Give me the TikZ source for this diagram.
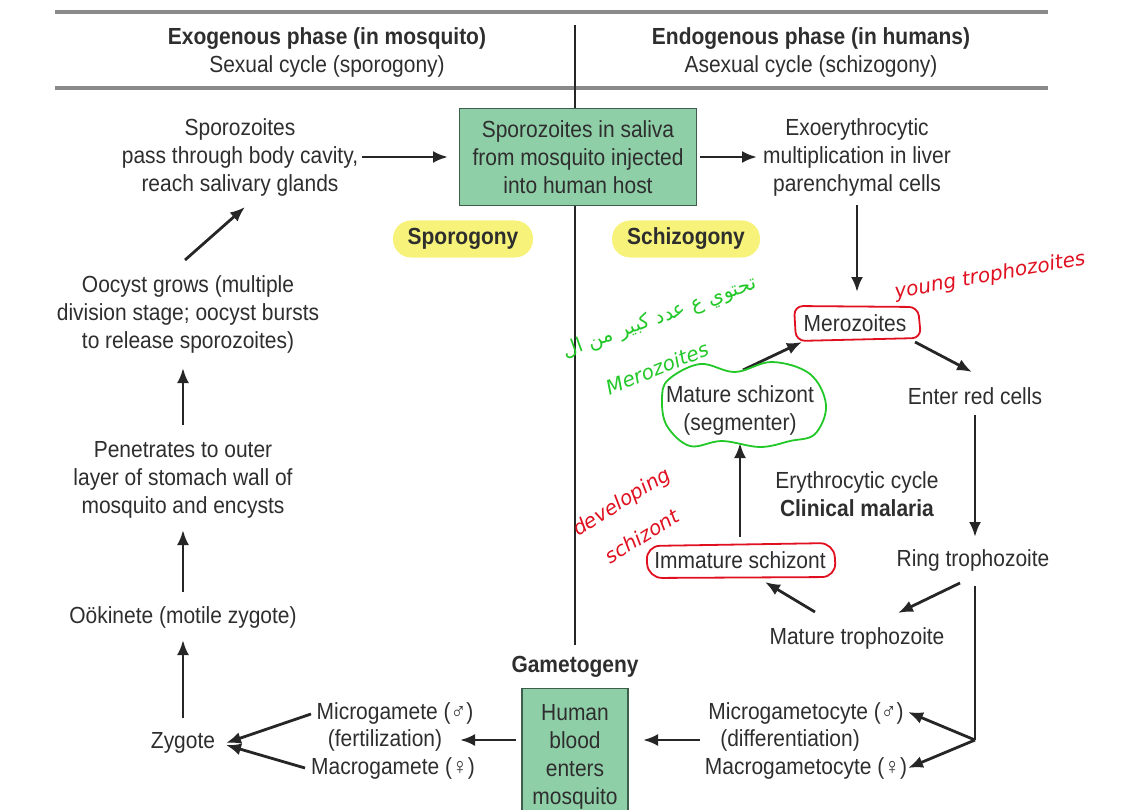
\documentclass[tikz,border=0pt]{standalone}
\usepackage{fontspec}
\setmainfont[FakeStretch=0.9]{Liberation Sans}
\newfontfamily\arabicfont[Script=Arabic]{DejaVu Sans}
\newfontfamily\handfont{DejaVu Sans}
\TeXXeTstate=1
\usetikzlibrary{arrows.meta,calc}
\definecolor{txt}{HTML}{2E2E2E}
\definecolor{boxgreen}{HTML}{8FCFA8}
\definecolor{boxedge}{HTML}{3E5E4C}
\definecolor{pill}{HTML}{F6F27A}
\definecolor{rule}{HTML}{8A8A8A}
\definecolor{pen}{HTML}{E01020}
\definecolor{gpen}{HTML}{22C828}
\tikzset{
  lbl/.style={text=txt, align=center, font=\fontsize{23.3}{28}\selectfont, inner sep=1pt},
  gbox/.style={lbl, draw=boxedge, fill=boxgreen, line width=1.4pt},
  pillbox/.style={fill=pill, rounded corners=18pt, minimum height=37pt, text=txt, font=\fontsize{23.3}{26}\selectfont\bfseries, inner sep=0pt},
  arr/.style={draw=black!85, line width=2.8pt, -{Latex[length=15pt,width=12pt]}},
  ln/.style={draw=black!85, line width=2.8pt},
  hrule/.style={draw=rule, line width=4pt},
  redmark/.style={draw=pen, line width=1.8pt},
  hand/.style={font=\handfont\itshape\fontsize{20}{24}\selectfont, inner sep=0pt}
}
\begin{document}
\begin{tikzpicture}[x=1pt,y=-1pt]
\useasboundingbox (0,0) rectangle (1139,810);
% rules and divider
\draw[hrule] (55,12) -- (1048,12);
\draw[hrule] (55,88) -- (1048,88);
\draw[draw=black!85, line width=1.3pt] (575,25) -- (575,645);
% headers
\node[lbl] (hdrL) at (327,52) {\textbf{Exogenous phase (in mosquito)}\\Sexual cycle (sporogony)};
\node[lbl] (hdrR) at (811,52) {\textbf{Endogenous phase (in humans)}\\Asexual cycle (schizogony)};
% top row
\node[lbl] (spz) at (240,157) {Sporozoites\\pass through body cavity,\\reach salivary glands};
\node[gbox, minimum width=237pt, minimum height=97pt] (saliva) at (578,157) {Sporozoites in saliva\\from mosquito injected\\into human host};
\node[lbl] (exo) at (857,157) {Exoerythrocytic\\multiplication in liver\\parenchymal cells};
\node[pillbox, minimum width=140pt] (sporog) at (463,239) {Sporogony};
\node[pillbox, minimum width=148pt] (schizog) at (686,239) {Schizogony};
% erythrocytic cycle
\node[lbl] (mero) at (855,323) {Merozoites};
\node[lbl] (enter) at (975,396) {Enter red cells};
\node[lbl] (ring) at (973,560) {Ring trophozoite};
\node[lbl] (mattro) at (857,638) {Mature trophozoite};
\node[lbl] (immat) at (740,560) {Immature schizont};
\node[lbl] (matsch) at (740,410) {Mature schizont\\(segmenter)};
\node[lbl] (eryth) at (857,494) {Erythrocytic cycle\\\textbf{Clinical malaria}};
% gametocytes
\node[lbl] (microcyte) at (806,713) {Microgametocyte (♂)};
\node[lbl] (diff) at (790,740) {(differentiation)};
\node[lbl] (macrocyte) at (806,768) {Macrogametocyte (♀)};
\node[lbl, font=\fontsize{23.3}{28}\selectfont\bfseries] (gamgen) at (575,667) {Gametogeny};
\node[gbox, minimum width=106pt, minimum height=136pt, anchor=north] (human) at (575,688) {Human\\blood\\enters\\mosquito};
\node[lbl] (microg) at (395,713) {Microgamete (♂)};
\node[lbl] (fert) at (385,740) {(fertilization)};
\node[lbl] (macrog) at (393,768) {Macrogamete (♀)};
% left column
\node[lbl] (zyg) at (183,743) {Zygote};
\node[lbl] (ook) at (183,617) {Oökinete (motile zygote)};
\node[lbl] (pen) at (183,480) {Penetrates to outer\\layer of stomach wall of\\mosquito and encysts};
\node[lbl] (oocyst) at (188,314) {Oocyst grows (multiple\\division stage; oocyst bursts\\to release sporozoites)};
% connectors
\draw[arr] ($(spz)+(122,0)$) -- ($(saliva)+(-130,0)$);
\draw[arr] ($(saliva)+(122,0)$) -- ($(exo)+(-100,0)$);
\draw[arr] ($(exo)+(0,48)$) -- ($(mero)+(2,-31)$);
\draw[arr] ($(mero)+(60,19)$) -- ($(enter)+(-3,-24)$);
\draw[arr] ($(enter)+(0,19)$) -- ($(ring)+(2,-23)$);
\draw[arr] ($(ring)+(-13,23)$) -- ($(mattro)+(41,-25)$);
\draw[arr] ($(mattro)+(-42,-26)$) -- ($(immat)+(25,22)$);
\draw[arr] ($(immat)+(0,-23)$) -- ($(matsch)+(0,33)$);
\draw[arr] ($(matsch)+(3,-40)$) -- ($(mero)+(-53,19)$);
\coordinate (split) at (975,740);
\draw[ln] ($(ring)+(2,26)$) -- (split);
\draw[arr] (split) -- ($(microcyte)+(102,-1)$);
\draw[arr] (split) -- ($(macrocyte)+(102,0)$);
\draw[arr] ($(diff)+(-90,0)$) -- ($(human.north)+(68,52)$);
\draw[arr] ($(human.north)+(-59,52)$) -- ($(fert)+(75,0)$);
\draw[arr] ($(microg)+(-84,1)$) -- ($(zyg)+(43,0)$);
\draw[arr] ($(macrog)+(-88,0)$) -- ($(zyg)+(43,2)$);
\draw[arr] ($(zyg)+(0,-25)$) -- ($(ook)+(0,23)$);
\draw[arr] ($(ook)+(0,-25)$) -- ($(pen)+(0,50)$);
\draw[arr] ($(pen)+(0,-55)$) -- ($(oocyst)+(-5,54)$);
\draw[arr] ($(oocyst)+(-3,-54)$) -- ($(spz)+(5,50)$);
% handwritten annotations
\draw[redmark, rounded corners=9pt] (794,306) -- (918,307) -- (921,338) -- (796,341) -- cycle;
\draw[redmark, rounded corners=14pt] (646,546) -- (834,543) -- (836,577) -- (648,578) -- cycle;
\draw[draw=gpen, line width=1.8pt] plot[smooth cycle, tension=0.6] coordinates {(668,380) (700,364) (735,372) (772,362) (810,374) (826,405) (815,434) (790,441) (760,447) (722,441) (690,446) (667,426) (662,400)};
\node[hand, text=pen, rotate=10] (young) at (990,276) {young trophozoites};
\node[hand, text=pen, rotate=32] (devel) at (622,503) {developing};
\node[hand, text=pen, rotate=32] (schz) at (642,536) {schizont};
\node[text=gpen, rotate=20, font=\arabicfont\fontsize{20}{24}\selectfont, inner sep=0pt] (arab) at (660,318) {\beginR تحتوي ع عدد كبير من ال\endR};
\node[hand, text=gpen, rotate=22] (gmero) at (657,368) {Merozoites};
\end{tikzpicture}
\end{document}
